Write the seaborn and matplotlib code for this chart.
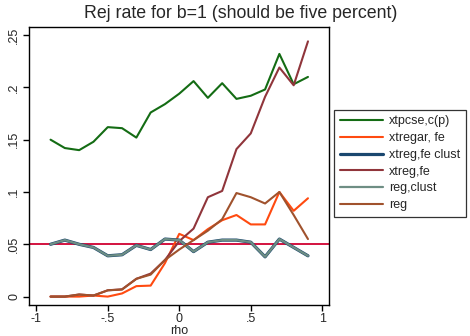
import numpy as np
import pandas as pd
import matplotlib
matplotlib.use("Agg")
import matplotlib.pyplot as plt
import seaborn as sns

rho = [-0.9, -0.8, -0.7, -0.6, -0.5, -0.4, -0.3, -0.2, -0.1, 0.0,
       0.1, 0.2, 0.3, 0.4, 0.5, 0.6, 0.7, 0.8, 0.9]

xtpcse = [0.150, 0.142, 0.140, 0.148, 0.162, 0.161, 0.152, 0.176, 0.184, 0.194,
          0.206, 0.190, 0.204, 0.189, 0.192, 0.198, 0.232, 0.203, 0.210]
xtregar = [0.000, 0.000, 0.000, 0.001, 0.000, 0.003, 0.010, 0.0105, 0.032, 0.060,
           0.054, 0.0645, 0.073, 0.078, 0.069, 0.069, 0.100, 0.082, 0.094]
xtreg_fe_clust = [0.050, 0.054, 0.050, 0.047, 0.039, 0.040, 0.049, 0.045, 0.055, 0.054,
                  0.043, 0.052, 0.054, 0.054, 0.052, 0.038, 0.055, 0.047, 0.039]
xtreg_fe = [0.000, 0.000, 0.002, 0.001, 0.006, 0.007, 0.017, 0.022, 0.035, 0.053,
            0.065, 0.095, 0.101, 0.141, 0.156, 0.191, 0.219, 0.202, 0.244]
reg_clust = [0.050, 0.054, 0.050, 0.047, 0.039, 0.040, 0.049, 0.045, 0.055, 0.054,
             0.043, 0.052, 0.054, 0.054, 0.052, 0.038, 0.055, 0.047, 0.039]
reg = [0.000, 0.000, 0.002, 0.001, 0.006, 0.0067, 0.017, 0.021, 0.035, 0.045,
       0.054, 0.063, 0.074, 0.099, 0.095, 0.089, 0.100, 0.078, 0.055]

labels = ["xtpcse,c(p)", "xtregar, fe", "xtreg,fe clust", "xtreg,fe", "reg,clust", "reg"]
series = [xtpcse, xtregar, xtreg_fe_clust, xtreg_fe, reg_clust, reg]
colors = ["#146c14", "#ff4a10", "#1a476f", "#90353b", "#6e8e84", "#a0522d"]
widths = [1.5, 1.5, 2.3, 1.5, 1.6, 1.5]

xticks = [-1, -0.5, 0, 0.5, 1]
xticklabels = ["-1", "-.5", "0", ".5", "1"]
yticks = [0, 0.05, 0.1, 0.15, 0.2, 0.25]
yticklabels = ["0", ".05", ".1", ".15", ".2", ".25"]
ref_line = 0.05

sns.set_theme(style="white")
plt.rcParams['font.family'] = ['Liberation Sans', 'DejaVu Sans']

df = pd.DataFrame({"rho": rho})
for lab, s in zip(labels, series):
    df[lab] = s
long = df.melt(id_vars="rho", var_name="method", value_name="rate")

fig = plt.figure(figsize=(4.7, 3.36), dpi=100)
fig.patch.set_facecolor("white")
ax = fig.add_axes([0.061, 0.093, 0.6396, 0.8275])

ax.axhline(ref_line, color="#d3123f", lw=1.4, zorder=1)

for lab, c, w in zip(labels, colors, widths):
    sns.lineplot(data=long[long["method"] == lab], x="rho", y="rate",
                 color=c, linewidth=w, ax=ax, label=lab, zorder=3)

ax.set_xlim(-1.053, 1.049)
ax.set_ylim(-0.0078, 0.258)
ax.set_xticks(xticks)
ax.set_xticklabels(xticklabels, fontsize=9)
ax.set_yticks(yticks)
ax.set_yticklabels(yticklabels, fontsize=9, rotation=90, va="center")
ax.set_xlabel("rho", fontsize=9, labelpad=0)
ax.set_ylabel("")
ax.tick_params(axis="both", direction="out", length=4, width=1, color="black",
               bottom=True, left=True, pad=2)
for sp in ax.spines.values():
    sp.set_visible(True)
    sp.set_color("black")
    sp.set_linewidth(1.0)
ax.grid(False)

handles, labs = ax.get_legend_handles_labels()
ax.get_legend().remove()
leg = fig.legend(handles, labs, loc="upper left", bbox_to_anchor=(0.711, 0.673),
                 fontsize=9, frameon=True, fancybox=False, edgecolor="black",
                 handlelength=3.45, handletextpad=0.5, labelspacing=0.38,
                 borderpad=0.45, borderaxespad=0)
leg.get_frame().set_linewidth(0.9)

fig.text(0.513, 0.985, "Rej rate for b=1 (should be five percent)", ha="center",
         va="top", fontsize=12.8)

fig.savefig("out.png", dpi=100)
